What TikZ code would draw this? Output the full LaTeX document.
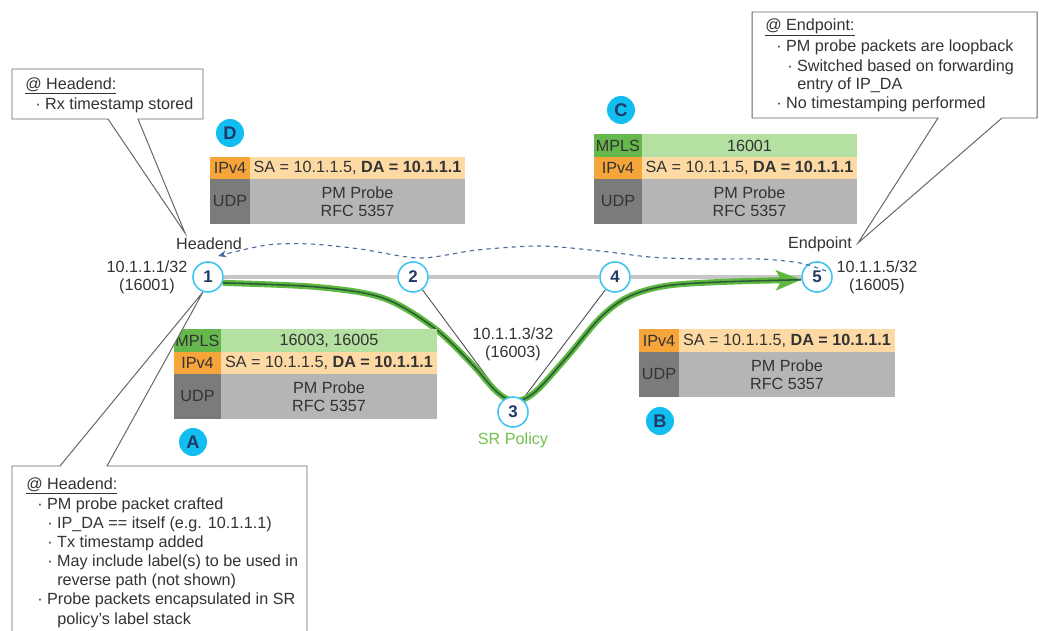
\documentclass[tikz,border=0pt]{standalone}
\usepackage{fontspec}
\setmainfont{Liberation Sans}
\usetikzlibrary{arrows.meta}
\pgfdeclarelayer{background}
\pgfsetlayers{background,main}
\definecolor{textc}{HTML}{333333}
\definecolor{navy}{HTML}{1F3A66}
\definecolor{routerc}{HTML}{3CC3F0}
\definecolor{badgec}{HTML}{12BDEF}
\definecolor{mplsD}{HTML}{66B84C}
\definecolor{mplsL}{HTML}{B4E0A1}
\definecolor{ipv4D}{HTML}{F5A53A}
\definecolor{ipv4L}{HTML}{FDD9A3}
\definecolor{udpD}{HTML}{7B7B7B}
\definecolor{udpL}{HTML}{B5B5B5}
\definecolor{greenO}{HTML}{5DB83D}
\definecolor{greenI}{HTML}{2B5A3C}
\definecolor{srgreen}{HTML}{72C04E}
\definecolor{dashc}{HTML}{4A6C9B}
\definecolor{linegray}{HTML}{C6C6C6}
\definecolor{calloutc}{HTML}{666666}
\newcommand\pkrow[9]{%
  \fill[#6D] (#1,#4) rectangle (#2,#5);
  \fill[#6L] (#2,#4) rectangle (#3,#5);
  \node[txt] (#9l) at ({(#1+#2)/2},{(#4+#5)/2}) {#7};
  \node[txt,align=center] (#9c) at ({(#2+#3)/2},{(#4+#5)/2}) {#8};
}
\begin{document}
\begin{tikzpicture}[x=0.025cm,y=-0.025cm,
  font=\fontsize{11.5}{12.8}\selectfont,
  txt/.style={inner sep=0pt,text=textc},
  ctxt/.style={inner sep=0pt,text=textc,anchor=base west},
  router/.style={circle,draw=routerc,line width=1.1pt,fill=white,minimum size=0.75cm,inner sep=0pt,text=navy,font=\fontsize{12}{12}\selectfont\bfseries},
  badge/.style={circle,fill=badgec,minimum size=0.7cm,inner sep=0pt,text=navy,font=\fontsize{13}{13}\selectfont\bfseries},
  callout/.style={draw=calloutc,line width=0.7pt,fill=white,line join=miter},
  grayline/.style={draw=linegray,line width=2.2pt},
  thinl/.style={draw=textc!90,line width=0.6pt},
]
\useasboundingbox (0,0) rectangle (1039,631);

% routers
\node[router] (n1) at (208,277) {1};
\node[router] (n2) at (413,277) {2};
\node[router] (n4) at (615,277) {4};
\node[router,fill=none] (n5) at (817,277) {5};
\node[router] (n3) at (513,412) {3};

\begin{pgfonlayer}{background}
\draw[grayline] (n1) -- (n2) -- (n4) -- (n5);
\draw[thinl] (n2) -- (n3);
\draw[thinl] (n4) -- (n3);
% green SR policy path
\draw[greenO,line width=4.3pt,-{Stealth[length=18pt,width=14pt,inset=4pt]}]
  plot[smooth,tension=0.55] coordinates {(n1.-22) (317,287) (383,298) (433,327) (470,362) (497,392) (515,401) (535,392) (567,357) (600,318) (628,297) (665,286) (720,282) (n5.190)};
\draw[greenI,line width=1.1pt]
  plot[smooth,tension=0.55] coordinates {(n1.-22) (317,287) (383,298) (433,327) (470,362) (497,392) (515,401) (535,392) (567,357) (600,318) (628,297) (665,286) (720,282) (n5.190)};
\end{pgfonlayer}

% dashed return path
\coordinate (dashS) at (826,271);
\coordinate (dashE) at (218,256);
\draw[dashc,dashed,line width=0.8pt,-{Stealth[length=6pt,width=5pt]}]
  plot[smooth,tension=0.5] coordinates {(dashS) (800,263) (760,259) (700,259) (650,257) (600,251) (540,246) (477,250) (420,258) (360,249) (310,244) (267,245) (dashE)};

% router labels
\node[txt,align=center] (l1) at (147,277) {10.1.1.1/32\\(16001)};
\node[txt,align=center] (l5) at (877,277) {10.1.1.5/32\\(16005)};
\node[txt,align=center] (l3) at (513,344) {10.1.1.3/32\\(16003)};
\node[txt] (hd) at (209,244) {Headend};
\node[txt] (ep) at (820,244) {Endpoint};
\node[txt,text=srgreen] (sr) at (513,440) {SR Policy};

% packet D
\pkrow{210}{250}{465}{157}{179}{ipv4}{IPv4}{SA = 10.1.1.5, \textbf{DA = 10.1.1.1}}{dI}
\pkrow{210}{250}{465}{179}{224}{udp}{UDP}{PM Probe\\RFC 5357}{dU}
% packet C
\pkrow{594}{642}{857}{134}{157}{mpls}{MPLS}{16001}{cM}
\pkrow{594}{642}{857}{157}{179}{ipv4}{IPv4}{SA = 10.1.1.5, \textbf{DA = 10.1.1.1}}{cI}
\pkrow{594}{642}{857}{179}{224}{udp}{UDP}{PM Probe\\RFC 5357}{cU}
% packet A
\pkrow{174}{221}{437}{329}{352}{mpls}{MPLS}{16003, 16005}{aM}
\pkrow{174}{221}{437}{352}{374}{ipv4}{IPv4}{SA = 10.1.1.5, \textbf{DA = 10.1.1.1}}{aI}
\pkrow{174}{221}{437}{374}{419}{udp}{UDP}{PM Probe\\RFC 5357}{aU}
% packet B
\pkrow{639}{679}{895}{329}{352}{ipv4}{IPv4}{SA = 10.1.1.5, \textbf{DA = 10.1.1.1}}{bI}
\pkrow{639}{679}{895}{352}{397}{udp}{UDP}{PM Probe\\RFC 5357}{bU}

% badges
\node[badge] (bD) at (230,133) {D};
\node[badge] (bC) at (621,110) {C};
\node[badge] (bA) at (193,442) {A};
\node[badge] (bB) at (660,421) {B};

% callout top-left
\draw[callout] (12,69) -- (203,69) -- (203,119) -- (138,119) -- (185,233) -- (108,119) -- (12,119) -- cycle;
\node[ctxt] (t1) at (25,89) {\underline{@ Headend:}};
\node[ctxt] (t2) at (35,109) {· Rx timestamp stored};

% callout endpoint
\draw[callout] (752,12) -- (1037,12) -- (1037,118) -- (1002,118) -- (858,243) -- (938,118) -- (752,118) -- cycle;
\node[ctxt] (e1) at (765,30) {\underline{@ Endpoint:}};
\node[ctxt] (e2) at (776,51) {· PM probe packets are loopback};
\node[ctxt] (e3) at (787,71) {· Switched based on forwarding};
\node[ctxt] (e4) at (797,89) {entry of IP\_DA};
\node[ctxt] (e5) at (776,108) {· No timestamping performed};

% callout bottom
\draw[callout] (12,640) -- (12,466) -- (60,466) -- (203,292) -- (107,466) -- (307,466) -- (307,640);
\node[ctxt] (b1) at (26,489) {\underline{@ Headend:}};
\node[ctxt] (b2) at (37,509) {· PM probe packet crafted};
\node[ctxt] (b3) at (47,528) {· IP\_DA == itself (e.g. 10.1.1.1)};
\node[ctxt] (b4) at (47,547) {· Tx timestamp added};
\node[ctxt] (b5) at (47,566) {· May include label(s) to be used in};
\node[ctxt] (b6) at (57,585) {reverse path (not shown)};
\node[ctxt] (b7) at (37,604) {· Probe packets encapsulated in SR};
\node[ctxt] (b8) at (57,624) {policy’s label stack};
\end{tikzpicture}
\end{document}
